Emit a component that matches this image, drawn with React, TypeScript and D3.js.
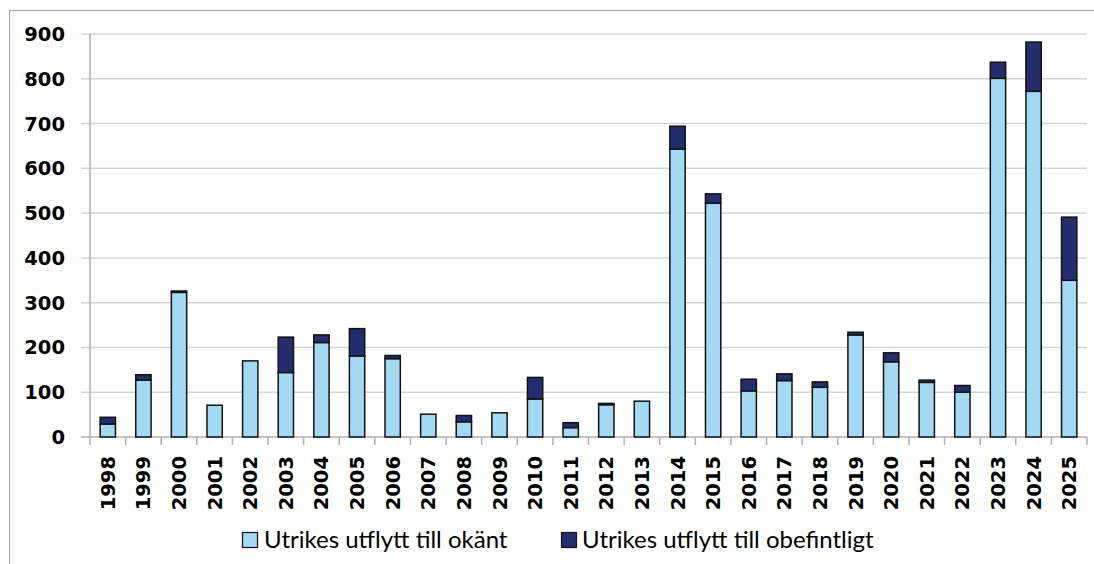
import React from "react";
import * as d3 from "d3";

const years = ["1998","1999","2000","2001","2002","2003","2004","2005","2006","2007","2008","2009","2010","2011","2012","2013","2014","2015","2016","2017","2018","2019","2020","2021","2022","2023","2024","2025"];
const okant = [29,127,323,71,170,144,211,181,175,51,34,54,85,21,72,80,643,522,103,126,111,228,168,122,100,801,772,350];
const obefintligt = [15,12,3,0,0,79,17,61,7,0,14,0,48,11,3,0,51,21,26,15,12,6,20,5,15,36,110,141];
const yTicks = [0,100,200,300,400,500,600,700,800,900];
const seriesNames = ["Utrikes utflytt till okänt", "Utrikes utflytt till obefintligt"];
const colors = ["#A3D9F2", "#242E6E"];

export default function App() {
  const W = 1094, H = 564;
  const left = 90, right = 1087, top = 34, bottom = 437;
  const x = d3.scaleBand<string>().domain(years).range([left, right]).padding(0);
  const y = d3.scaleLinear().domain([0, 900]).range([bottom, top]);
  const bw = x.bandwidth() * 0.43;
  const stackData = years.map((yr, i) => ({ year: yr, a: okant[i], b: obefintligt[i] }));
  const stack = d3.stack<any>().keys(["a", "b"])(stackData);
  const boundaries = years.map((yr) => x(yr)!).concat([right]);
  const numFont = "'DejaVu Sans', sans-serif";
  const legFont = "Lato, 'Open Sans', sans-serif";
  return (
    <div style={{ position: "absolute", left: 0, top: 0 }}>
      <svg width={W} height={H} style={{ display: "block" }}>
        <rect x={0} y={0} width={W} height={H} fill="#fff" />
        <rect x={9.5} y={10.5} width={1200} height={700} fill="none" stroke="#A6A6A6" strokeWidth={1} />
        {yTicks.map((t) => (
          <g key={t}>
            <line x1={81} x2={right} y1={y(t)} y2={y(t)} stroke={t === 0 ? "#B0B0B0" : "#D4D4D4"} strokeWidth={1.5} />
            <text x={65} y={y(t)} dy="0.36em" textAnchor="end" fontFamily={numFont} fontWeight="bold" fontSize={19.5} fill="#000">{t}</text>
          </g>
        ))}
        <line x1={left} x2={left} y1={top} y2={bottom} stroke="#B0B0B0" strokeWidth={1.5} />
        {boundaries.map((bx, i) => (
          <line key={i} x1={bx} x2={bx} y1={bottom} y2={445} stroke="#B0B0B0" strokeWidth={1.5} />
        ))}
        {stack.map((s, si) => (
          <g key={si}>
            {s.map((d, i) => {
              const v = d[1] - d[0];
              if (v <= 0) return null;
              const cx = x(years[i])! + x.bandwidth() / 2;
              return (
                <rect key={i} x={cx - bw / 2} y={y(d[1])} width={bw} height={y(d[0]) - y(d[1])}
                  fill={colors[si]} stroke="#111" strokeWidth={1.5} />
              );
            })}
          </g>
        ))}
        {years.map((yr) => {
          const cx = x(yr)! + x.bandwidth() / 2;
          return (
            <text key={yr} transform={`translate(${cx},456) rotate(-90)`} dy="0.36em" textAnchor="end"
              fontFamily={numFont} fontWeight="bold" fontSize={19.5} fill="#000">{yr}</text>
          );
        })}
        <g>
          <rect x={242.5} y={532.5} width={15} height={15} fill={colors[0]} stroke="#111" strokeWidth={1.2} />
          <text x={264} y={548} fontFamily={legFont} fontSize={24} fill="#000">{seriesNames[0]}</text>
          <rect x={561.5} y={532.5} width={15} height={15} fill={colors[1]} stroke="#111" strokeWidth={1.2} />
          <text x={582} y={548} fontFamily={legFont} fontSize={24} fill="#000">{seriesNames[1]}</text>
        </g>
      </svg>
    </div>
  );
}
